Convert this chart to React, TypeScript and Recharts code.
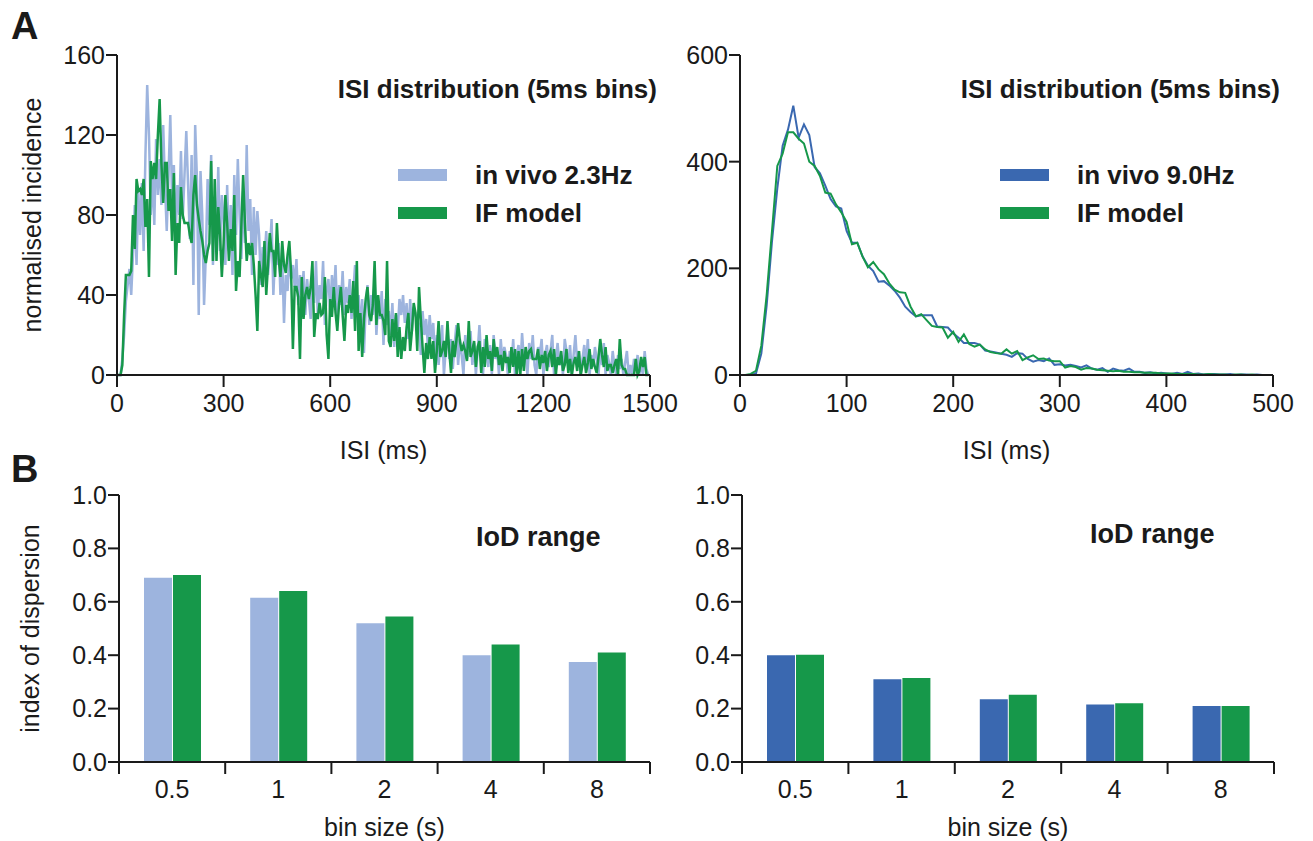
import React from 'react';
import { LineChart, Line, XAxis, YAxis, BarChart, Bar, Legend } from 'recharts';

const FONT = '"Liberation Sans", Arial, Helvetica, sans-serif';
const INK = '#1a1a1a';
const LIGHT_BLUE = '#9db4de';
const DARK_BLUE = '#3a68b0';
const GREEN = '#16984a';

const BIN_MS = 5;

// ISI distribution, in vivo 2.3 Hz (5 ms bins, 0..1495 ms)
const leftVivo = [
  0, 0, 0, 8, 20, 37, 45, 53, 40, 60,
  85, 55, 92, 70, 96, 62, 110, 145, 120, 80,
  100, 75, 118, 90, 108, 85, 125, 95, 72, 100,
  130, 88, 105, 70, 95, 80, 112, 78, 100, 122,
  95, 68, 110, 45, 125, 98, 30, 102, 80, 35,
  60, 98, 75, 110, 55, 88, 70, 104, 62, 90,
  78, 55, 95, 62, 85, 50, 100, 70, 108, 80,
  58, 92, 66, 115, 72, 88, 50, 84, 60, 82,
  70, 45, 64, 58, 72, 50, 62, 78, 40, 60,
  55, 66, 40, 58, 26, 50, 42, 60, 48, 55,
  44, 58, 35, 50, 40, 52, 30, 48, 38, 28,
  50, 36, 57, 30, 45, 38, 57, 25, 42, 48,
  32, 50, 38, 55, 28, 45, 35, 52, 30, 44,
  36, 48, 28, 42, 55, 30, 40, 22, 38, 11,
  34, 45, 25, 40, 30, 48, 20, 36, 28, 42,
  15, 38, 25, 32, 20, 36, 14, 30, 22, 38,
  30, 40, 26, 36, 18, 38, 22, 34, 30, 28,
  25, 10, 32, 20, 28, 14, 30, 18, 26, 8,
  20, 5, 15, 25, 0, 12, 22, 8, 18, 3,
  15, 25, 5, 18, 10, 0, 20, 8, 14, 22,
  5, 16, 0, 12, 25, 8, 0, 18, 10, 4,
  15, 0, 20, 8, 12, 0, 18, 6, 14, 10,
  0, 12, 5, 18, 0, 10, 15, 3, 21, 8,
  12, 0, 16, 8, 20, 5, 0, 14, 10, 18,
  0, 10, 15, 4, 12, 20, 0, 8, 16, 5,
  10, 0, 18, 12, 5, 15, 0, 10, 20, 6,
  12, 0, 8, 15, 5, 18, 0, 10, 4, 14,
  8, 0, 12, 5, 16, 0, 10, 6, 0, 12,
  4, 0, 10, 3, 8, 0, 6, 12, 0, 5,
  0, 8, 2, 10, 0, 6, 0, 12, 3, 0,
];

// ISI distribution, IF model (matched to 2.3 Hz)
const leftModel = [
  0, 0, 0, 5, 30, 50, 50, 50, 52, 80,
  63, 98, 92, 93, 90, 98, 74, 88, 49, 107,
  98, 106, 98, 120, 138, 106, 86, 106, 106, 82,
  93, 67, 101, 50, 76, 66, 94, 80, 76, 76,
  76, 70, 66, 90, 100, 85, 78, 72, 67, 60,
  56, 62, 66, 107, 57, 98, 57, 84, 70, 49,
  66, 90, 76, 57, 73, 62, 90, 42, 57, 49,
  75, 100, 76, 57, 66, 60, 66, 55, 40, 22,
  57, 50, 44, 67, 40, 55, 71, 62, 62, 49,
  76, 58, 49, 67, 55, 51, 60, 67, 51, 13,
  44, 44, 39, 8, 49, 28, 40, 44, 38, 44,
  57, 19, 31, 28, 36, 30, 31, 49, 20, 8,
  38, 29, 44, 31, 22, 36, 44, 30, 17, 35,
  31, 40, 31, 47, 22, 57, 12, 31, 9, 28,
  38, 44, 30, 27, 35, 57, 25, 40, 30, 30,
  27, 20, 57, 17, 14, 28, 17, 31, 9, 24,
  8, 19, 12, 24, 31, 12, 22, 36, 31, 12,
  44, 28, 14, 1, 16, 8, 19, 8, 17, 1,
  12, 27, 9, 12, 17, 9, 27, 12, 1, 17,
  9, 17, 26, 17, 12, 15, 12, 7, 27, 9,
  12, 17, 4, 14, 17, 1, 14, 4, 20, 8,
  12, 2, 18, 9, 14, 5, 10, 2, 12, 6,
  9, 1, 14, 4, 13, 0, 12, 0, 13, 2,
  14, 8, 12, 13, 8, 8, 8, 13, 3, 10,
  6, 12, 2, 10, 12, 4, 13, 0, 9, 5,
  12, 2, 5, 13, 1, 8, 0, 6, 9, 2,
  12, 0, 5, 9, 1, 6, 13, 3, 8, 4,
  1, 9, 18, 10, 4, 14, 2, 5, 5, 1,
  5, 8, 0, 18, 5, 3, 3, 0, 0, 0,
  0, 0, 8, 0, 2, 9, 4, 9, 0, 0,
];

// ISI distribution, in vivo 9.0 Hz (5 ms bins, 0..500 ms)
const rightVivo = [
  0, 0, 0, 3, 40, 130, 250, 350, 430, 460,
  505, 445, 470, 450, 390, 378, 355, 330, 316, 312,
  270, 248, 248, 222, 205, 195, 175, 176, 168, 158,
  145, 128, 118, 110, 112, 112, 112, 91, 90, 89,
  78, 70, 60, 60, 60, 57, 46, 44, 42, 40,
  38, 34, 41, 40, 30, 25, 28, 26, 31, 19,
  20, 18, 19, 17, 14, 18, 12, 10, 13, 6,
  12, 9, 8, 12, 6, 6, 4, 5, 3, 4,
  3, 2, 4, 2, 6, 2, 3, 1, 2, 2,
  1, 1, 2, 0, 1, 1, 0, 1, 0, 0,
  0,
];

// ISI distribution, IF model (matched to 9.0 Hz)
const rightModel = [
  0, 0, 2, 8, 55, 150, 270, 392, 415, 455,
  455, 443, 434, 400, 392, 373, 342, 340, 320, 305,
  287, 245, 248, 222, 202, 212, 198, 189, 172, 160,
  155, 154, 128, 110, 114, 103, 92, 90, 89, 70,
  81, 62, 76, 58, 53, 57, 48, 43, 41, 40,
  48, 40, 45, 28, 33, 37, 30, 31, 27, 26,
  26, 14, 17, 15, 10, 13, 12, 10, 9, 8,
  7, 8, 6, 6, 5, 5, 4, 4, 4, 3,
  3, 3, 2, 2, 2, 2, 1, 1, 2, 1,
  1, 1, 0, 1, 1, 0, 1, 0, 0, 0,
  0,
];

const leftXTicks = [0, 300, 600, 900, 1200, 1500];
const leftYTicks = [0, 40, 80, 120, 160];
const rightXTicks = [0, 100, 200, 300, 400, 500];
const rightYTicks = [0, 200, 400, 600];

const binSizes = ['0.5', '1', '2', '4', '8'];
const iodLowVivo = [0.69, 0.615, 0.52, 0.4, 0.375];
const iodLowModel = [0.7, 0.64, 0.545, 0.44, 0.41];
const iodHighVivo = [0.4, 0.31, 0.235, 0.215, 0.21];
const iodHighModel = [0.402, 0.315, 0.252, 0.22, 0.21];
const iodTicks = [0, 0.2, 0.4, 0.6, 0.8, 1.0];

const seriesOrder = ['vivo', 'model'];

const leftData = leftVivo.map((v, i) => ({ t: i * BIN_MS, vivo: v, model: leftModel[i] }));
const rightData = rightVivo.map((v, i) => ({ t: i * BIN_MS, vivo: v, model: rightModel[i] }));
const lowBars = binSizes.map((b, i) => ({ pos: i + 0.5, vivo: iodLowVivo[i], model: iodLowModel[i] }));
const highBars = binSizes.map((b, i) => ({ pos: i + 0.5, vivo: iodHighVivo[i], model: iodHighModel[i] }));
const binEdgeTicks = [0, 0.5, 1, 1.5, 2, 2.5, 3, 3.5, 4, 4.5, 5];

const TICK_FONT = 25;
const axisStroke = { stroke: INK, strokeWidth: 2 };
const tickStyle = { fill: INK, fontSize: TICK_FONT };

const makeLegend = (title: string, titleRight: number, swatchLeft: number, textGap: number) => (props: any) => {
  const payload = (props.payload || []).slice().sort(
    (a: any, b: any) => seriesOrder.indexOf(a.dataKey) - seriesOrder.indexOf(b.dataKey)
  );
  return (
    <div style={{ position: 'relative', width: '100%', height: '100%', fontFamily: FONT, color: INK }}>
      <div style={{ position: 'absolute', right: titleRight, top: 74, fontWeight: 700, fontSize: 26, lineHeight: '30px', whiteSpace: 'nowrap' }}>{title}</div>
      {payload.map((p: any, i: number) => (
        <div key={i} style={{ position: 'absolute', left: swatchLeft, top: 160 + i * 38, height: 30, display: 'flex', alignItems: 'center', whiteSpace: 'nowrap' }}>
          <span style={{ display: 'inline-block', width: 49, height: 12, background: p.color }} />
          <span style={{ marginLeft: textGap, fontWeight: 700, fontSize: 26, lineHeight: '30px' }}>{p.value}</span>
        </div>
      ))}
    </div>
  );
};

const makeTitleOnly = (title: string, left: number, top: number) => () => (
  <div style={{ position: 'relative', width: '100%', height: '100%', fontFamily: FONT, color: INK }}>
    <div style={{ position: 'absolute', left, top, fontWeight: 700, fontSize: 27, lineHeight: '30px', whiteSpace: 'nowrap' }}>{title}</div>
  </div>
);

const BinTick = (props: any) => {
  const { x, y, payload } = props;
  const v = payload.value;
  if (Number.isInteger(v)) {
    return <line x1={x} x2={x} y1={y - 12} y2={y} stroke={INK} strokeWidth={2} />;
  }
  return (
    <text x={x} y={y + 6} dy="0.71em" textAnchor="middle" fontSize={TICK_FONT} fill={INK}>
      {binSizes[Math.floor(v)]}
    </text>
  );
};

const LeftHist = () => (
  <LineChart width={680} height={470} data={leftData} margin={{ top: 55, right: 30, bottom: 0, left: 0 }}>
    <XAxis type="number" dataKey="t" domain={[0, 1500]} ticks={leftXTicks} interval={0} height={95}
      tickSize={12} tickMargin={7} axisLine={axisStroke} tickLine={axisStroke} tick={tickStyle}
      label={{ value: 'ISI (ms)', position: 'insideBottom', offset: 11, fill: INK, fontSize: 25 }} />
    <YAxis type="number" domain={[0, 160]} ticks={leftYTicks} interval={0} width={117}
      tickSize={11} tickMargin={1} axisLine={axisStroke} tickLine={axisStroke} tick={tickStyle}
      label={{ value: 'normalised incidence', angle: -90, position: 'insideLeft', offset: 32, fill: INK, fontSize: 25, style: { textAnchor: 'middle' } }} />
    <Legend layout="vertical" align="center" verticalAlign="middle"
      wrapperStyle={{ left: 0, top: 0, width: 680, height: 470 }}
      content={makeLegend('ISI distribution (5ms bins)', 23, 398, 28)} />
    <Line type="linear" dataKey="vivo" name="in vivo 2.3Hz" stroke={LIGHT_BLUE} strokeWidth={2.5} dot={false} isAnimationActive={false} />
    <Line type="linear" dataKey="model" name="IF model" stroke={GREEN} strokeWidth={2.5} dot={false} isAnimationActive={false} />
  </LineChart>
);

const RightHist = () => (
  <LineChart width={680} height={470} data={rightData} margin={{ top: 55, right: 27, bottom: 0, left: 0 }}>
    <XAxis type="number" dataKey="t" domain={[0, 500]} ticks={rightXTicks} interval={0} height={95}
      tickSize={12} tickMargin={7} axisLine={axisStroke} tickLine={axisStroke} tick={tickStyle}
      label={{ value: 'ISI (ms)', position: 'insideBottom', offset: 11, fill: INK, fontSize: 25 }} />
    <YAxis type="number" domain={[0, 600]} ticks={rightYTicks} interval={0} width={120}
      tickSize={11} tickMargin={1} axisLine={axisStroke} tickLine={axisStroke} tick={tickStyle} />
    <Legend layout="vertical" align="center" verticalAlign="middle"
      wrapperStyle={{ left: 0, top: 0, width: 680, height: 470 }}
      content={makeLegend('ISI distribution (5ms bins)', 20, 380, 28)} />
    <Line type="linear" dataKey="vivo" name="in vivo 9.0Hz" stroke={DARK_BLUE} strokeWidth={2} dot={false} isAnimationActive={false} />
    <Line type="linear" dataKey="model" name="IF model" stroke={GREEN} strokeWidth={2} dot={false} isAnimationActive={false} />
  </LineChart>
);

const IodBars = ({ data, vivoColor, yLabel, yWidth, right, titleLeft, titleTop }: any) => (
  <BarChart width={680} height={371} data={data} margin={{ top: 25, right, bottom: 0, left: 0 }} barGap={1} barSize={28}>
    <XAxis type="number" dataKey="pos" domain={[0, 5]} ticks={binEdgeTicks} interval={0} height={79}
      tickSize={12} tickMargin={0} axisLine={axisStroke} tickLine={false} tick={<BinTick />}
      label={{ value: 'bin size (s)', position: 'insideBottom', offset: 5, fill: INK, fontSize: 25 }} />
    <YAxis type="number" domain={[0, 1]} ticks={iodTicks} interval={0} width={yWidth}
      tickSize={11} tickMargin={1} axisLine={axisStroke} tickLine={axisStroke} tick={tickStyle}
      tickFormatter={(v: number) => v.toFixed(1)}
      label={yLabel ? { value: yLabel, angle: -90, position: 'insideLeft', offset: 30, fill: INK, fontSize: 25, style: { textAnchor: 'middle' } } : undefined} />
    <Legend layout="vertical" align="center" verticalAlign="middle"
      wrapperStyle={{ left: 0, top: 0, width: 680, height: 371 }}
      content={makeTitleOnly('IoD range', titleLeft, titleTop)} />
    <Bar dataKey="vivo" name="in vivo" fill={vivoColor} isAnimationActive={false} />
    <Bar dataKey="model" name="IF model" fill={GREEN} isAnimationActive={false} />
  </BarChart>
);

export default function App() {
  return (
    <div style={{ position: 'absolute', left: 0, top: 0, width: 1313, height: 841, background: '#fff', fontFamily: FONT, color: INK, overflow: 'hidden' }}>
      <div style={{ position: 'absolute', left: 0, top: 0 }}>
        <LeftHist />
      </div>
      <div style={{ position: 'absolute', left: 620, top: 0 }}>
        <RightHist />
      </div>
      <div style={{ position: 'absolute', left: 0, top: 470 }}>
        <IodBars data={lowBars} vivoColor={LIGHT_BLUE} yLabel="index of dispersion" yWidth={119} right={30} titleLeft={476} titleTop={52} />
      </div>
      <div style={{ position: 'absolute', left: 620, top: 470 }}>
        <IodBars data={highBars} vivoColor={DARK_BLUE} yLabel={null} yWidth={122} right={26} titleLeft={470} titleTop={49} />
      </div>
      <div style={{ position: 'absolute', left: 11, top: 4, fontWeight: 700, fontSize: 38, lineHeight: '44px' }}>A</div>
      <div style={{ position: 'absolute', left: 11, top: 447, fontWeight: 700, fontSize: 38, lineHeight: '44px' }}>B</div>
    </div>
  );
}
